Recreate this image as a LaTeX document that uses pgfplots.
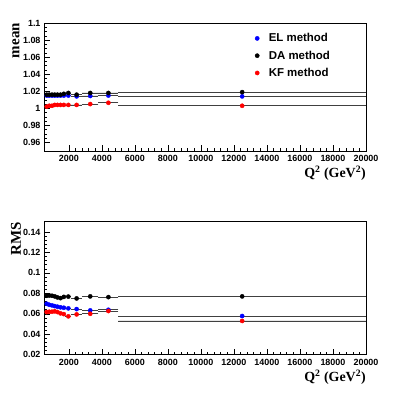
\documentclass[border=0pt]{standalone}
\usepackage{pgfplots}
\usepackage{pgfplotstable}
\pgfplotsset{compat=1.18}
\usepackage{fontspec}
\setmainfont{Liberation Sans}
\newfontfamily\tnr{Liberation Serif}

% Q2 bin centres and half widths, mean and RMS per method
\pgfplotstableread{
x     y      e
665   1.015  65
815   1.015  85
985   1.015  85
1150  1.015  80
1315  1.015  85
1500  1.015  100
1700  1.015  100
1975  1.015  175
2475  1.014  325
3300  1.0145 500
4400  1.015  600
12500 1.014  7500
}\meanEL
\pgfplotstableread{
x     y      e
665   1.016  65
815   1.016  85
985   1.016  85
1150  1.016  80
1315  1.016  85
1500  1.016  100
1700  1.017  100
1975  1.018  175
2475  1.016  325
3300  1.018  500
4400  1.018  600
12500 1.019  7500
}\meanDA
\pgfplotstableread{
x     y      e
665   1.002  65
815   1.003  85
985   1.003  85
1150  1.004  80
1315  1.004  85
1500  1.004  100
1700  1.004  100
1975  1.004  175
2475  1.004  325
3300  1.005  500
4400  1.0065 600
12500 1.003  7500
}\meanKF
\pgfplotstableread{
x     y      e
665   0.0698 65
815   0.0688 85
985   0.0682 85
1150  0.0675 80
1315  0.0669 85
1500  0.0663 100
1700  0.0659 100
1975  0.0653 175
2475  0.0646 325
3300  0.0633 500
4400  0.0639 600
12500 0.0578 7500
}\rmsEL
\pgfplotstableread{
x     y      e
665   0.0776 65
815   0.0779 85
985   0.0776 85
1150  0.0770 80
1315  0.0760 85
1500  0.0753 100
1700  0.0765 100
1975  0.0768 175
2475  0.0750 325
3300  0.0770 500
4400  0.0763 600
12500 0.0770 7500
}\rmsDA
\pgfplotstableread{
x     y      e
665   0.0617 65
815   0.0620 85
985   0.0620 85
1150  0.0624 80
1315  0.0617 85
1500  0.0604 100
1700  0.0597 100
1975  0.0575 175
2475  0.0594 325
3300  0.0600 500
4400  0.0627 600
12500 0.0530 7500
}\rmsKF

\pgfplotsset{
  rootframe/.style={
    scale only axis, width=322bp,
    xmin=500, xmax=20000,
    xtick={2000,4000,...,20000},
    minor x tick num=4,
    scaled ticks=false,
    /pgf/number format/1000 sep={},
    /pgf/number format/assume math mode=true,
    tick align=inside, xtick pos=bottom, ytick pos=left,
    major tick length=6bp, minor tick length=3bp,
    axis line style={line width=0.6bp},
    every tick/.style={black, line width=0.5bp},
    tick label style={font=\fontsize{9}{10}\selectfont\bfseries},
    xticklabel style={yshift=-1bp},
    xlabel={\tnr\bfseries Q\textsuperscript{2} (GeV\textsuperscript{2})},
    xlabel style={at={(axis description cs:1,0)}, anchor=north east,
      yshift=-15bp, inner sep=0pt, font=\fontsize{14}{16}\selectfont},
    ylabel style={at={(axis description cs:-0.087,1)}, anchor=east,
      inner sep=0pt, font=\fontsize{15}{17}\selectfont},
  },
  pts/.style={only marks, mark=*, mark size=2.1bp, draw=#1, fill=#1,
    error bars/.cd, x dir=both, x explicit,
    error mark=none,
    error bar style={black!75, line width=0.6bp}},
}

\begin{document}
\begin{tikzpicture}
\path[use as bounding box] (0,0) rectangle (410bp,-397bp);

\begin{axis}[rootframe,
  at={(44bp,-151bp)}, anchor=south west, height=128bp,
  ymin=0.95, ymax=1.1,
  ytick={0.96,0.98,1,1.02,1.04,1.06,1.08,1.1},
  yticklabels={0.96,0.98,1,1.02,1.04,1.06,1.08,1.1},
  minor y tick num=3,
  ylabel={\tnr\bfseries mean},
  legend style={at={(axis description cs:0.655,0.935)}, anchor=north west,
    draw=none, fill=none, font=\fontsize{11.5}{13}\selectfont\bfseries,
    row sep=3.5bp, inner sep=0pt},
  legend cell align=left,
  legend image code/.code={%
    \path[draw=none, fill=none] (0bp,0bp) rectangle (11.6bp,0.1bp);
    \draw[#1] plot coordinates {(2bp,0bp)};},
]
\addplot[pts=blue] table[x=x, y=y, x error=e] {\meanEL};
\addplot[pts=black] table[x=x, y=y, x error=e] {\meanDA};
\addplot[pts=red] table[x=x, y=y, x error=e] {\meanKF};
\legend{EL method, DA method, KF method}
\end{axis}

\begin{axis}[rootframe,
  at={(44bp,-354.7bp)}, anchor=south west, height=133bp,
  ymin=0.02, ymax=0.15,
  ytick={0.02,0.04,0.06,0.08,0.1,0.12,0.14},
  yticklabels={0.02,0.04,0.06,0.08,0.1,0.12,0.14},
  minor y tick num=4,
  ylabel={\tnr\bfseries RMS},
]
\addplot[pts=blue] table[x=x, y=y, x error=e] {\rmsEL};
\addplot[pts=black] table[x=x, y=y, x error=e] {\rmsDA};
\addplot[pts=red] table[x=x, y=y, x error=e] {\rmsKF};
\end{axis}
\end{tikzpicture}
\end{document}
